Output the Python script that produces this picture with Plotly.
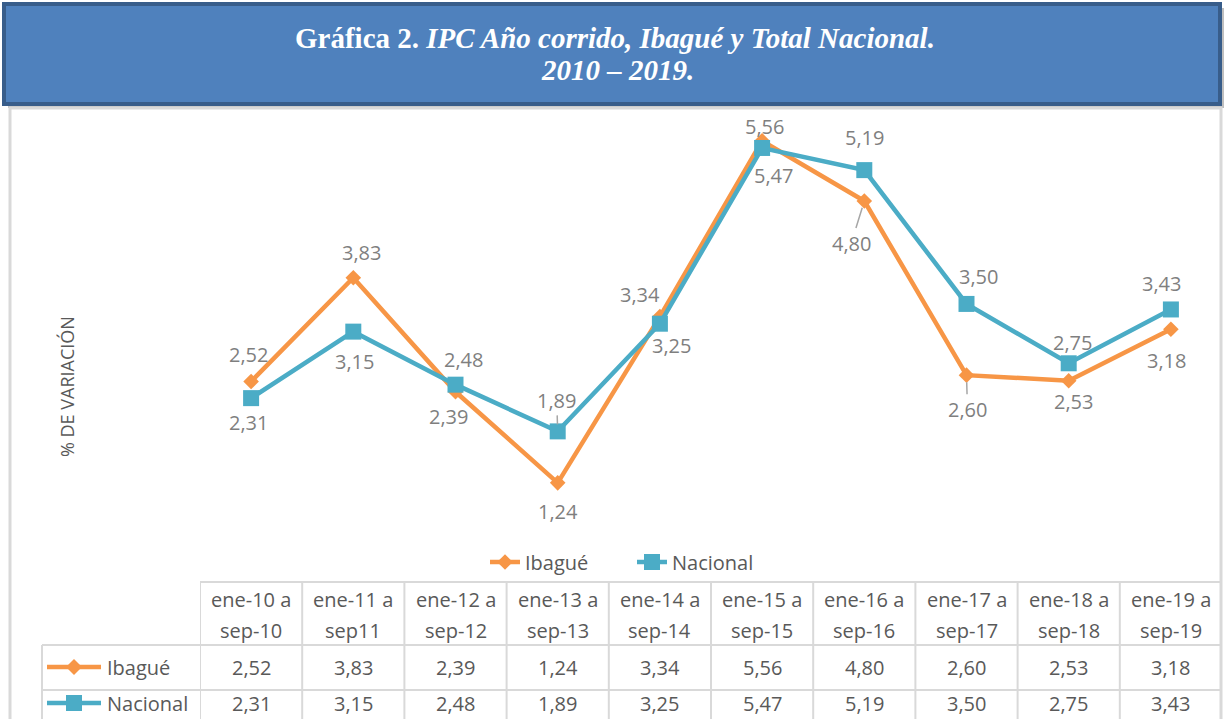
import plotly.graph_objects as go

# ---------------- data ----------------
categories = ["ene-10 a sep-10", "ene-11 a sep11", "ene-12 a sep-12", "ene-13 a sep-13",
              "ene-14 a sep-14", "ene-15 a sep-15", "ene-16 a sep-16", "ene-17 a sep-17",
              "ene-18 a sep-18", "ene-19 a sep-19"]
ibague = [2.52, 3.83, 2.39, 1.24, 3.34, 5.56, 4.80, 2.60, 2.53, 3.18]
nacional = [2.31, 3.15, 2.48, 1.89, 3.25, 5.47, 5.19, 3.50, 2.75, 3.43]
series_names = ["Ibagué", "Nacional"]

title_line1_bold = "Gráfica 2."
title_line1_italic = "IPC Año corrido, Ibagué y Total Nacional."
title_line2 = "2010 – 2019."
y_title = "% DE VARIACIÓN"

# ---------------- styles ----------------
ORANGE = "#F79646"
BLUE = "#4BACC6"
GRID = "#D9D9D9"
TXT = "#595959"
LBL = "#7F7F7F"
FONT = "Open Sans"

# label offsets (dx, dy) in px relative to marker; leader flag
ib_off = [(-3, -27, False), (8, -25, False), (-7, 25, False), (0, 29, False), (-20, -22, False),
          (2, -14, False), (-13, 42, True), (1, 34, True), (5, 21, False), (-4, 31, False)]
na_off = [(-3, 24, False), (1, 30, False), (8, -25, False), (-1, -31, True), (12, 22, False),
          (11, 28, False), (0, -33, False), (12, -27, False), (4, -21, False), (-9, -26, False)]

W, H = 1225, 719
L, R, T, B = 200, 3, 106, 138


def px(xp):
    return (xp - L) / (W - L - R)


def py(yp):
    return (H - B - yp) / (H - B - T)


def fmt(v):
    return f"{v:.2f}".replace(".", ",")


fig = go.Figure()
fig.add_trace(go.Scatter(x=categories, y=ibague, name=series_names[0], mode="lines+markers",
                         line=dict(color=ORANGE, width=4.5),
                         marker=dict(symbol="diamond", size=12, color=ORANGE)))
fig.add_trace(go.Scatter(x=categories, y=nacional, name=series_names[1], mode="lines+markers",
                         line=dict(color=BLUE, width=4.5),
                         marker=dict(symbol="square", size=16, color=BLUE)))

shapes = []
ann = []

# title box
shapes.append(dict(type="rect", xref="paper", yref="paper", x0=px(8), x1=px(1224), y0=py(8), y1=py(108),
                   fillcolor="#BFBFBF", line=dict(width=0), layer="below"))
shapes.append(dict(type="rect", xref="paper", yref="paper", x0=px(4), x1=px(1220), y0=py(4), y1=py(104),
                   fillcolor="#4F81BD", line=dict(color="#385D8A", width=4), layer="below"))
# chart frame
shapes.append(dict(type="rect", xref="paper", yref="paper", x0=px(10), x1=px(1221), y0=py(108), y1=py(740),
                   fillcolor="rgba(0,0,0,0)", line=dict(color=GRID, width=3), layer="below"))

ann.append(dict(xref="paper", yref="paper", x=px(615), y=py(38), showarrow=False,
                text=f"<b>{title_line1_bold} <i>{title_line1_italic}</i></b>",
                font=dict(family="Liberation Serif", size=29, color="white"),
                xanchor="center", yanchor="middle"))
ann.append(dict(xref="paper", yref="paper", x=px(617), y=py(70), showarrow=False,
                text=f"<b><i>{title_line2}</i></b>",
                font=dict(family="Liberation Serif", size=29, color="white"),
                xanchor="center", yanchor="middle"))

# y axis title
ann.append(dict(xref="paper", yref="paper", x=px(67), y=py(387), showarrow=False, text=y_title,
                textangle=-90, font=dict(family=FONT, size=18, color=TXT),
                xanchor="center", yanchor="middle"))

# data labels
for vals, offs in ((ibague, ib_off), (nacional, na_off)):
    for i, (v, (dx, dy, lead)) in enumerate(zip(vals, offs)):
        if lead:
            ann.append(dict(xref="x", yref="y", x=i, y=v, text=fmt(v), showarrow=True,
                            ax=dx, ay=dy, arrowhead=0, arrowwidth=1.5, arrowcolor="#A6A6A6",
                            standoff=7, font=dict(family=FONT, size=20, color=LBL)))
        else:
            ann.append(dict(xref="x", yref="y", x=i, y=v, text=fmt(v), showarrow=False,
                            xshift=dx, yshift=-dy, xanchor="center", yanchor="middle",
                            font=dict(family=FONT, size=20, color=LBL)))

# data table
n = len(categories)
tbl_top, row1, row2, tbl_bot = 582, 645, 690, 740
line = dict(color=GRID, width=2)
shapes.append(dict(type="line", xref="x", yref="paper", x0=-0.5, x1=n - 0.5, y0=py(tbl_top), y1=py(tbl_top), line=line))
for yy in (row1, row2):
    shapes.append(dict(type="line", xref="paper", yref="paper", x0=px(42), x1=1, y0=py(yy), y1=py(yy), line=line))
shapes.append(dict(type="line", xref="paper", yref="paper", x0=px(42), x1=px(42), y0=py(row1), y1=py(tbl_bot), line=line))
for i in range(n + 1):
    shapes.append(dict(type="line", xref="x", yref="paper", x0=i - 0.5, x1=i - 0.5,
                       y0=py(tbl_top), y1=py(tbl_bot), line=line))

for i, c in enumerate(categories):
    first, second = c.split(" a ")
    ann.append(dict(xref="x", yref="paper", x=i, y=py(599), text=first + " a", showarrow=False,
                    font=dict(family=FONT, size=20, color=TXT), xanchor="center", yanchor="middle"))
    ann.append(dict(xref="x", yref="paper", x=i, y=py(630), text=second, showarrow=False,
                    font=dict(family=FONT, size=20, color=TXT), xanchor="center", yanchor="middle"))
    ann.append(dict(xref="x", yref="paper", x=i, y=py(667), text=fmt(ibague[i]), showarrow=False,
                    font=dict(family=FONT, size=20, color=TXT), xanchor="center", yanchor="middle"))
    ann.append(dict(xref="x", yref="paper", x=i, y=py(703), text=fmt(nacional[i]), showarrow=False,
                    font=dict(family=FONT, size=20, color=TXT), xanchor="center", yanchor="middle"))

# row headers with legend keys
for yy, name, col, sym in ((667, series_names[0], ORANGE, "diamond"), (703, series_names[1], BLUE, "square")):
    shapes.append(dict(type="line", xref="paper", yref="paper", x0=px(47), x1=px(101), y0=py(yy), y1=py(yy),
                       line=dict(color=col, width=4.5)))
    cx, cy = 74, yy
    if sym == "diamond":
        path = f"M {px(cx-8)},{py(cy)} L {px(cx)},{py(cy-8)} L {px(cx+8)},{py(cy)} L {px(cx)},{py(cy+8)} Z"
    else:
        path = f"M {px(cx-8)},{py(cy-8)} L {px(cx+8)},{py(cy-8)} L {px(cx+8)},{py(cy+8)} L {px(cx-8)},{py(cy+8)} Z"
    shapes.append(dict(type="path", xref="paper", yref="paper", path=path, fillcolor=col, line=dict(width=0)))
    ann.append(dict(xref="paper", yref="paper", x=px(105), y=py(yy), text=name, showarrow=False,
                    font=dict(family=FONT, size=20, color=TXT), xanchor="left", yanchor="middle"))

fig.update_layout(
    width=W, height=H,
    margin=dict(l=L, r=R, t=T, b=B, pad=0),
    paper_bgcolor="white", plot_bgcolor="white",
    xaxis=dict(type="category", range=[-0.5, n - 0.5], showticklabels=False, showgrid=False,
               zeroline=False, showline=False, ticks=""),
    yaxis=dict(range=[0, 6], showticklabels=False, showgrid=False, zeroline=False, showline=False, ticks=""),
    legend=dict(orientation="h", x=px(485), xanchor="left", y=py(562), yanchor="middle",
                entrywidth=102, entrywidthmode="pixels",
                font=dict(family=FONT, size=20, color=TXT), bgcolor="rgba(0,0,0,0)"),
    shapes=shapes, annotations=ann,
    showlegend=True,
)

fig.write_html("out.html", config={"displayModeBar": False},
               post_script="document.body.style.margin='0';document.body.style.overflow='hidden';")
